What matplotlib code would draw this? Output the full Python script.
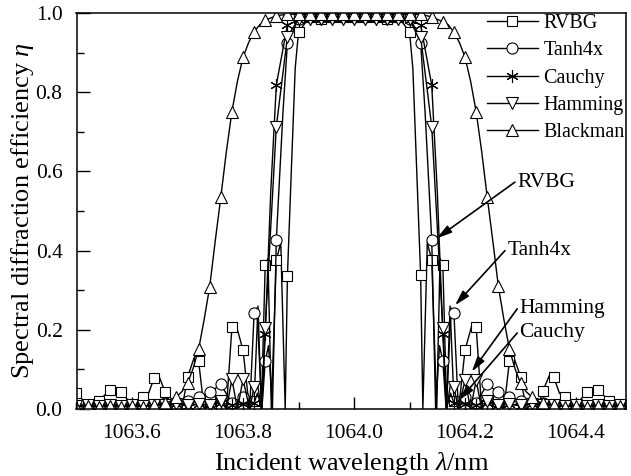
import numpy as np
import matplotlib
matplotlib.use('Agg')
import matplotlib.pyplot as plt
from matplotlib.ticker import MultipleLocator, FormatStrFormatter

plt.rcParams['font.family'] = ['Liberation Serif', 'DejaVu Serif']
plt.rcParams['mathtext.fontset'] = 'custom'
plt.rcParams['mathtext.it'] = 'Liberation Serif:italic'
plt.rcParams['mathtext.rm'] = 'Liberation Serif'

# ---------------- data ----------------
# sampling grid of the markers (nm), 0.02 nm step
wavelength = np.linspace(1063.50, 1064.50, 51)

rvbg = [0.040, 0.010, 0.020, 0.048, 0.044, 0.010, 0.031, 0.079, 0.042, 0.010,
        0.080, 0.121, 0.020, 0.010, 0.206, 0.149, 0.020, 0.364, 0.376, 0.336,
        0.952, 0.990, 0.985, 0.990, 0.990, 0.990, 0.990, 0.990, 0.985, 0.990,
        0.952, 0.338, 0.376, 0.364, 0.020, 0.149, 0.208, 0.010, 0.020, 0.121,
        0.082, 0.010, 0.045, 0.080, 0.031, 0.010, 0.044, 0.048, 0.020, 0.010,
        0.035]
tanh4x = [0.005, 0.010, 0.005, 0.010, 0.005, 0.010, 0.008, 0.010, 0.015, 0.010,
          0.020, 0.030, 0.042, 0.062, 0.015, 0.030, 0.242, 0.121, 0.427, 0.925,
          0.985, 0.990, 0.990, 0.990, 0.990, 0.990, 0.990, 0.990, 0.990, 0.990,
          0.985, 0.925, 0.427, 0.121, 0.242, 0.030, 0.015, 0.062, 0.042, 0.030,
          0.020, 0.010, 0.015, 0.010, 0.008, 0.010, 0.005, 0.010, 0.005, 0.010,
          0.005]
cauchy = [0.005, 0.008, 0.005, 0.008, 0.005, 0.008, 0.006, 0.010, 0.008, 0.012,
          0.008, 0.012, 0.010, 0.015, 0.010, 0.012, 0.015, 0.190, 0.818, 0.970,
          0.982, 0.985, 0.985, 0.985, 0.985, 0.985, 0.985, 0.985, 0.985, 0.985,
          0.982, 0.970, 0.818, 0.190, 0.015, 0.012, 0.010, 0.015, 0.010, 0.012,
          0.008, 0.012, 0.008, 0.010, 0.006, 0.008, 0.005, 0.008, 0.005, 0.008,
          0.005]
hamming = [0.008, 0.010, 0.008, 0.010, 0.008, 0.010, 0.008, 0.010, 0.010, 0.012,
           0.010, 0.012, 0.010, 0.020, 0.075, 0.075, 0.056, 0.204, 0.713, 0.940,
           0.985, 0.985, 0.985, 0.985, 0.985, 0.985, 0.985, 0.985, 0.985, 0.985,
           0.985, 0.940, 0.713, 0.204, 0.056, 0.073, 0.073, 0.020, 0.010, 0.012,
           0.010, 0.012, 0.010, 0.010, 0.008, 0.010, 0.008, 0.010, 0.008, 0.010,
           0.008]
blackman = [0.005, 0.008, 0.005, 0.008, 0.005, 0.008, 0.006, 0.010, 0.014, 0.031,
            0.065, 0.151, 0.309, 0.535, 0.751, 0.888, 0.953, 0.982, 0.993, 0.997,
            0.997, 0.997, 0.997, 0.997, 0.997, 0.997, 0.997, 0.997, 0.997, 0.997,
            0.997, 0.997, 0.990, 0.978, 0.951, 0.888, 0.751, 0.535, 0.310, 0.151,
            0.065, 0.031, 0.014, 0.010, 0.006, 0.008, 0.005, 0.008, 0.005, 0.008,
            0.005]

# extra line vertices between markers (nulls, side-lobe peaks, curve bends)
rvbg_ex_x = [1063.610, 1063.630, 1063.648, 1063.670, 1063.690, 1063.712, 1063.730,
             1063.750, 1063.770, 1063.787, 1063.810, 1063.812, 1063.827, 1063.833,
             1063.845, 1063.851, 1063.868, 1063.876, 1063.887, 1063.894,
             1064.106, 1064.113, 1064.124, 1064.132, 1064.149, 1064.155, 1064.167,
             1064.173, 1064.188, 1064.190, 1064.213, 1064.230, 1064.250, 1064.270,
             1064.288, 1064.310, 1064.330, 1064.352, 1064.370, 1064.390]
rvbg_ex_y = [0.000, 0.040, 0.085, 0.000, 0.000, 0.130, 0.000,
             0.030, 0.000, 0.215, 0.020, 0.000, 0.260, 0.000,
             0.380, 0.000, 0.420, 0.000, 0.600, 0.860,
             0.860, 0.600, 0.000, 0.420, 0.000, 0.380, 0.000,
             0.260, 0.000, 0.020, 0.215, 0.000, 0.030, 0.000,
             0.130, 0.000, 0.000, 0.085, 0.040, 0.000]

tanh_ex_x = [1063.812, 1063.825, 1063.834, 1063.846, 1063.853, 1063.872,
             1064.128, 1064.147, 1064.154, 1064.166, 1064.175, 1064.188]
tanh_ex_y = [0.000, 0.255, 0.000, 0.160, 0.000, 0.750,
             0.750, 0.000, 0.160, 0.000, 0.255, 0.000]

cauchy_ex_x = [1063.826, 1063.834, 1063.850, 1064.150, 1064.166, 1064.174]
cauchy_ex_y = [0.040, 0.000, 0.550, 0.550, 0.000, 0.040]

hamming_ex_x = [1063.770, 1063.790, 1063.812, 1063.826, 1063.833, 1063.850,
                1064.150, 1064.167, 1064.174, 1064.188, 1064.210, 1064.230]
hamming_ex_y = [0.000, 0.000, 0.000, 0.065, 0.000, 0.460,
                0.460, 0.000, 0.065, 0.000, 0.000, 0.000]

blackman_ex_x = [1063.670, 1063.690, 1063.710, 1063.730, 1063.750, 1063.770,
                 1063.790, 1063.810, 1063.830,
                 1064.170, 1064.190, 1064.210, 1064.230, 1064.250, 1064.270,
                 1064.290, 1064.310, 1064.330]
blackman_ex_y = [0.020, 0.044, 0.102, 0.226, 0.425, 0.650,
                 0.828, 0.925, 0.970,
                 0.970, 0.925, 0.828, 0.650, 0.425, 0.226,
                 0.102, 0.044, 0.020]

series = [
    ('RVBG', rvbg, rvbg_ex_x, rvbg_ex_y, 's', 7.5),
    ('Tanh4x', tanh4x, tanh_ex_x, tanh_ex_y, 'o', 8),
    ('Cauchy', cauchy, cauchy_ex_x, cauchy_ex_y, (6, 2, 0), 9),
    ('Hamming', hamming, hamming_ex_x, hamming_ex_y, 'v', 8.5),
    ('Blackman', blackman, blackman_ex_x, blackman_ex_y, '^', 8.5),
]

# ---------------- figure ----------------
W, H = 631, 476
fig = plt.figure(figsize=(W / 100, H / 100), dpi=100)
ax = fig.add_axes([76.5 / W, (H - 409) / H, (626 - 76.5) / W, (409 - 13) / H])

for name, ys, exx, exy, mk, ms in series:
    xa = np.concatenate([wavelength, np.array(exx, dtype=float)])
    ya = np.concatenate([np.array(ys, dtype=float), np.array(exy, dtype=float)])
    order = np.argsort(xa, kind='stable')
    marks = list(np.where(order < len(wavelength))[0])
    ax.plot(xa[order], ya[order], color='black', lw=1.0, marker=mk, ms=ms,
            mfc='white', mec='black', mew=0.8, markevery=marks, label=name)

ax.set_xlim(1063.5, 1064.49)
ax.set_ylim(0.0, 1.0)
ax.xaxis.set_major_locator(MultipleLocator(0.2))
ax.xaxis.set_minor_locator(MultipleLocator(0.1))
ax.yaxis.set_major_locator(MultipleLocator(0.2))
ax.yaxis.set_minor_locator(MultipleLocator(0.1))
ax.xaxis.set_major_formatter(FormatStrFormatter('%.1f'))
ax.yaxis.set_major_formatter(FormatStrFormatter('%.1f'))
ax.tick_params(which='both', direction='in', top=False, right=False,
               labelsize=15.5, width=1.0)
ax.tick_params(which='major', length=9)
ax.tick_params(which='minor', length=5)
ax.tick_params(axis='x', which='major', pad=11)
ax.tick_params(axis='y', which='major', pad=10)
for s in ax.spines.values():
    s.set_linewidth(1.1)

ax.set_xlabel(r'Incident wavelength $\lambda$/nm', fontsize=19, labelpad=5)
ax.set_ylabel(r'Spectral diffraction efficiency $\eta$', fontsize=19, labelpad=0)

leg = ax.legend(loc='upper left', bbox_to_anchor=(0.729, 1.023), frameon=False,
                fontsize=14.5, handlelength=2.5, handletextpad=0.3,
                labelspacing=0.41, borderaxespad=0.1)

arrow = dict(arrowstyle='-|>,head_length=0.9,head_width=0.25', color='black',
             lw=1.2, shrinkA=0, shrinkB=0)
notes = [
    ('RVBG', (1064.294, 0.573), (1064.149, 0.431)),
    ('Tanh4x', (1064.276, 0.400), (1064.182, 0.262)),
    ('Hamming', (1064.298, 0.253), (1064.212, 0.094)),
    ('Cauchy', (1064.298, 0.192), (1064.190, 0.023)),
]
for txt, xy_text, xy_tip in notes:
    ax.annotate('', xy=xy_tip, xytext=(xy_text[0] - 0.004, xy_text[1]),
                arrowprops=arrow)
    ax.text(xy_text[0], xy_text[1], txt, fontsize=15.5, ha='left', va='center')

fig.savefig('out.png', dpi=100)
